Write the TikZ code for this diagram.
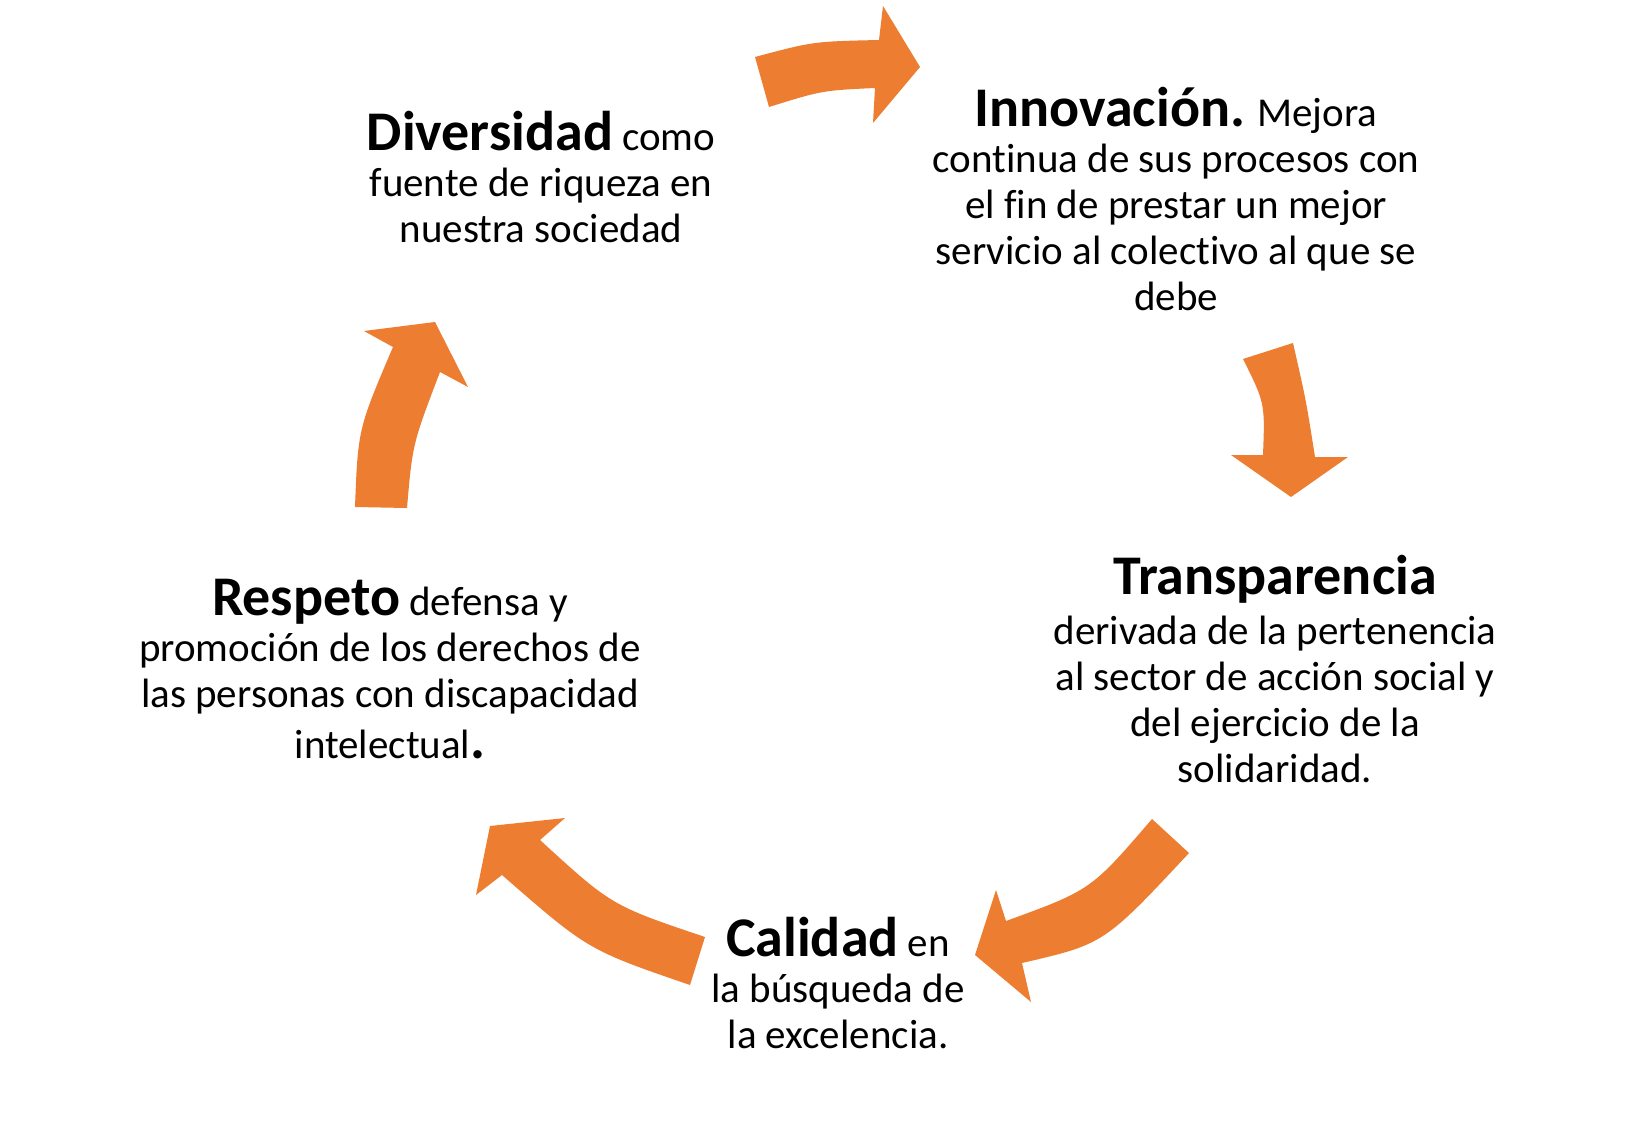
\documentclass[tikz,border=0pt]{standalone}
\usepackage{fontspec}
\setmainfont{Carlito}[Ligatures=NoCommon]
\definecolor{arroworange}{HTML}{ED7D31}
\tikzset{
  blockarrow/.style={fill=arroworange, draw=none},
  txt/.style={align=center, inner sep=0pt, anchor=base, font=\fontsize{41}{46}\selectfont},
}
\newcommand{\hd}[1]{{\fontsize{56}{46}\selectfont\bfseries #1}}
\begin{document}
\begin{tikzpicture}[x=1pt,y=-1pt]
\fill[white] (0,0) rectangle (1638,1126);
\useasboundingbox (0,0) rectangle (1638,1126);

% arrow 1 (top, pointing right)
\fill[blockarrow] (755,57) .. controls (813,41.5) .. (879,40) -- (883,6) -- (920,67) -- (873,123) -- (875,88)
  .. controls (822,90.5) .. (769,107) -- cycle;
% arrow 2 (right, pointing down)
\fill[blockarrow] (1293,343) .. controls (1306,400) .. (1315,457) -- (1348,457) -- (1291,497) -- (1231,455) -- (1263,455)
  .. controls (1265,403) .. (1243,359) -- cycle;
% arrow 3 (bottom right, pointing lower left)
\fill[blockarrow] (1189,853) .. controls (1104,944) .. (1022,963) -- (1031,1002) -- (975,955) -- (996,890) -- (1006,921)
  .. controls (1091,890) .. (1152,819) -- cycle;
% arrow 4 (bottom left, pointing upper left)
\fill[blockarrow] (690,985) .. controls (588,950) .. (502,875) -- (476,895) -- (490,826) -- (565,818) -- (540,840)
  .. controls (611.5,905.5) .. (705,937) -- cycle;
% arrow 5 (left, pointing up)
\fill[blockarrow] (407,508) .. controls (412.5,444) .. (440,372) -- (468,387) -- (435,322) -- (364,331) -- (393,347)
  .. controls (358,429) .. (355,507) -- cycle;

\node[txt] (diversidad) at (541,242) {\hd{Diversidad} como\\fuente de riqueza en\\nuestra sociedad};
\node[txt] (innovacion) at (1176,310) {\hd{Innovación.} Mejora\\continua de sus procesos con\\el fin de prestar un mejor\\servicio al colectivo al que se\\debe};
\node[txt] (transparencia) at (1275,782) {\hd{Transparencia}\\[4pt]derivada de la pertenencia\\al sector de acción social y\\del ejercicio de la\\solidaridad.};
\node[txt] (calidad) at (838,1048) {\hd{Calidad} en\\la búsqueda de\\la excelencia.};
\node[txt] (respeto) at (390,758) {\hd{Respeto} defensa y\\promoción de los derechos de\\las personas con discapacidad\\[5pt]intelectual\hd{.}};
\end{tikzpicture}
\end{document}
